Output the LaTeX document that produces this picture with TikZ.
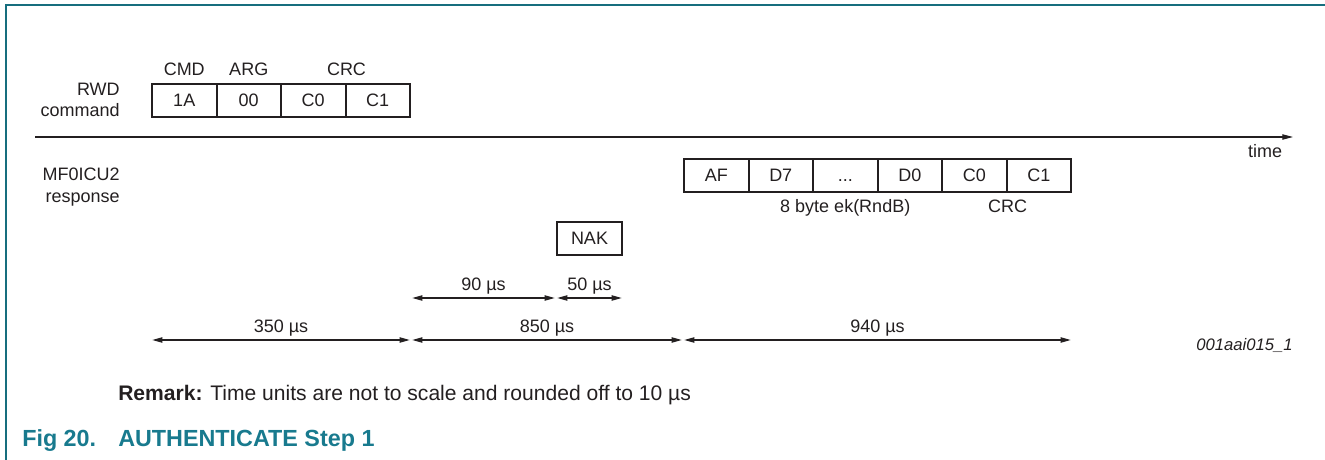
\documentclass[tikz,border=0pt]{standalone}
\usepackage{fontspec}
\setmainfont{Liberation Sans}
\usetikzlibrary{arrows.meta,calc}
\definecolor{frameteal}{RGB}{22,110,126}
\definecolor{capteal}{RGB}{24,122,142}
\definecolor{ink}{RGB}{35,31,32}
\begin{document}
\begin{tikzpicture}[x=0.75pt,y=-0.75pt,
  font=\fontsize{13.5}{16.2}\selectfont, text=ink,
  cell/.style={draw=ink,line width=1.5pt,minimum width=64.5*0.75pt,
    minimum height=33*0.75pt,inner sep=0pt,text height=9.7pt,text depth=0pt},
  lbl/.style={inner sep=0pt},
  dimline/.style={draw=ink,line width=0.8pt,
    {Triangle[length=7.5pt,width=4pt]}-{Triangle[length=7.5pt,width=4pt]},
    shorten <=1pt,shorten >=1pt},
  axisline/.style={draw=ink,line width=0.8pt,-{Triangle[length=8pt,width=4pt]}},
  capt/.style={inner sep=0pt,anchor=base west,text=capteal,
    font=\fontsize{17.5}{20}\selectfont\bfseries}
]
\useasboundingbox (0,0) rectangle (1325,460);
% frame
\draw[frameteal,line width=1.5pt] (6,460) -- (6,5) -- (1325,5);

% RWD command
\node[lbl,align=right,anchor=east] (rwd) at (120,100) {RWD\\command};
\node[cell] (c1A) at (184.25,100.5) {1A};
\node[cell] (c00) at (248.75,100.5) {00};
\node[cell] (cC0) at (313.25,100.5) {C0};
\node[cell] (cC1) at (377.75,100.5) {C1};
\node[lbl,anchor=base] (hcmd) at ($(c1A.center)+(0,-25.5)$) {CMD};
\node[lbl,anchor=base] (harg) at ($(c00.center)+(0,-25.5)$) {ARG};
\node[lbl,anchor=base] (hcrc) at ($(cC0.east)+(0,-25.5)$) {CRC};

% time axis
\coordinate (ax0) at (35,137);
\coordinate (ax1) at (1293,137);
\draw[axisline] (ax0) -- (ax1);
\node[lbl,anchor=base] (time) at (1265,157) {time};

% MF0ICU2 response
\node[lbl,align=right,anchor=east] (mf) at (120,187) {MF0ICU2\\response};
\node[cell] (rAF) at (716.25,175) {AF};
\node[cell] (rD7) at (780.75,175) {D7};
\node[cell] (rdots) at (845.25,175) {...};
\node[cell] (rD0) at (909.75,175) {D0};
\node[cell] (rC0) at (974.25,175) {C0};
\node[cell] (rC1) at (1038.75,175) {C1};
\node[lbl,anchor=base] (ek) at ($(rdots.center)+(0,37)$) {8 byte ek(RndB)};
\node[lbl,anchor=base] (rcrc) at ($(rC0.east)+(0,37)$) {CRC};

% NAK
\node[cell,minimum width=65*0.75pt] (nak) at (589.5,238.5) {NAK};

% dimension lines
\coordinate (u0) at (cC1.east |- 0,298);
\coordinate (u1) at (nak.west |- 0,298);
\coordinate (u2) at (nak.east |- 0,298);
\coordinate (t0) at (c1A.west |- 0,340);
\coordinate (t1) at (cC1.east |- 0,340);
\coordinate (t2) at (rAF.west |- 0,340);
\coordinate (t3) at (rC1.east |- 0,340);
\draw[dimline] (u0) -- (u1);
\draw[dimline] (u1) -- (u2);
\draw[dimline] (t0) -- (t1);
\draw[dimline] (t1) -- (t2);
\draw[dimline] (t2) -- (t3);
\node[lbl,anchor=base] (l90) at ($(u0)!0.5!(u1)+(0,-8)$) {90 µs};
\node[lbl,anchor=base] (l50) at ($(u1)!0.5!(u2)+(0,-8)$) {50 µs};
\node[lbl,anchor=base] (l350) at ($(t0)!0.5!(t1)+(0,-8)$) {350 µs};
\node[lbl,anchor=base] (l850) at ($(t1)!0.5!(t2)+(0,-8)$) {850 µs};
\node[lbl,anchor=base] (l940) at ($(t2)!0.5!(t3)+(0,-8)$) {940 µs};

% figure id
\node[lbl,anchor=east,font=\fontsize{12.5}{15}\selectfont\itshape] (fid) at (1293,345.5) {001aai015\_1};

% remark
\node[lbl,anchor=base west,font=\fontsize{15.8}{19}\selectfont] (remark) at (118,400) {\textbf{Remark:} Time units are not to scale and rounded off to 10 µs};

% caption
\node[capt] (fig) at (22,446) {Fig 20.};
\node[capt] (figt) at (118,446) {AUTHENTICATE Step 1};
\end{tikzpicture}
\end{document}
